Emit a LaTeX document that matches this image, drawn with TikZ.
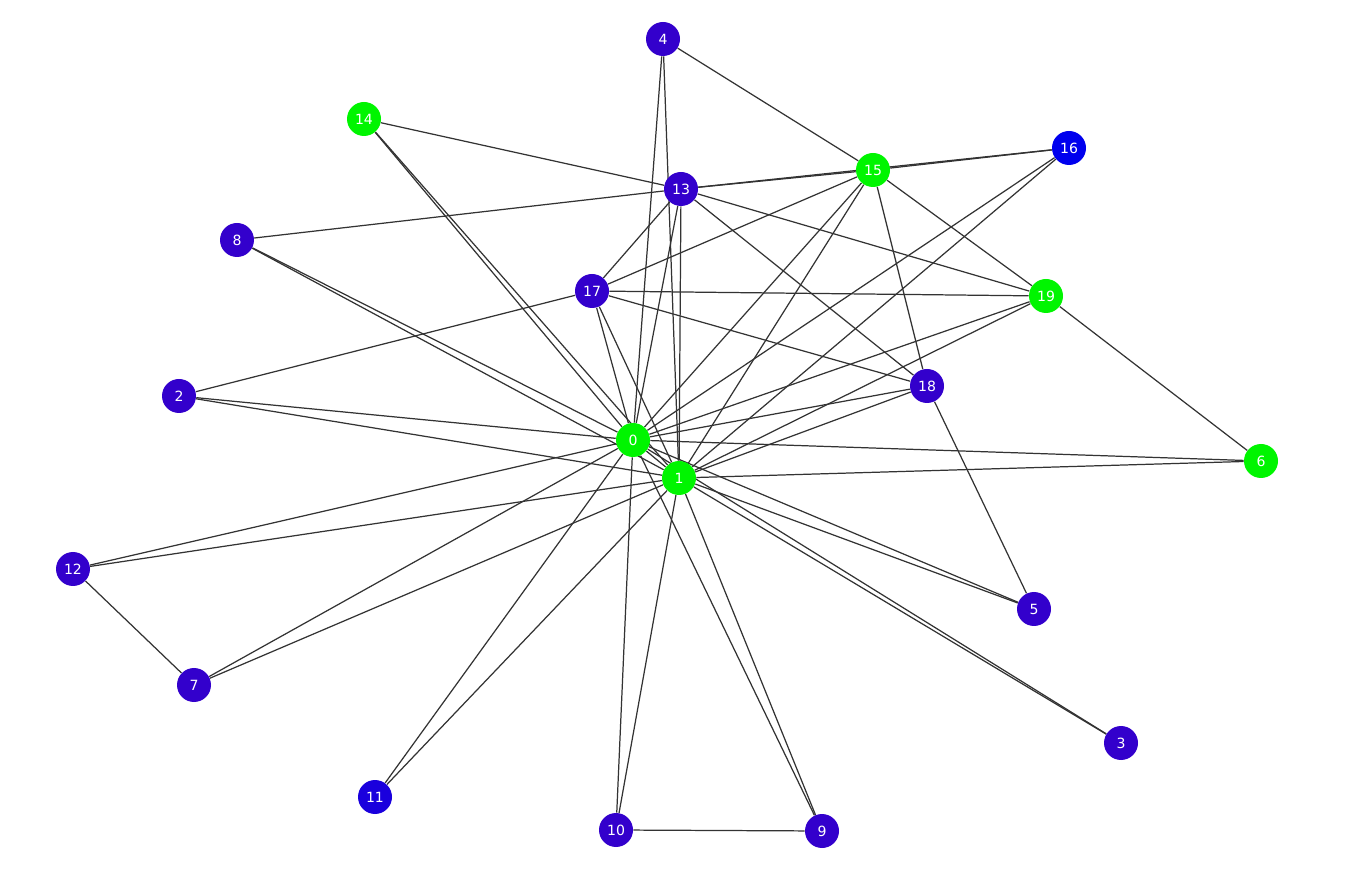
\documentclass[tikz,border=0pt]{standalone}
\usepackage{fontspec}
\setmainfont{DejaVu Sans}
\usepackage{tikz}
\usetikzlibrary{backgrounds}
\definecolor{hubgreen}{HTML}{00F500}
\definecolor{deeppurple}{HTML}{3300CC}
\definecolor{purpleblue}{HTML}{1A00DD}
\definecolor{pureblue}{HTML}{0000EE}
\tikzset{
  vtx/.style={circle, fill=deeppurple, text=white, minimum size=6.8mm,
              inner sep=0pt, font=\fontsize{8}{9}\selectfont},
  hub/.style={vtx, fill=hubgreen},
  edge/.style={line width=0.7pt, black!80},
}

\begin{document}
\begin{tikzpicture}[x=0.2mm, y=-0.2mm]
  \useasboundingbox (0,0) rectangle (1365,879);
  % vertices
  \node[hub] (v0) at (633,440) {0};
  \node[hub] (v1) at (679,478) {1};
  \node[vtx] (v2) at (179,396) {2};
  \node[vtx] (v3) at (1121,743) {3};
  \node[vtx] (v4) at (663,39) {4};
  \node[vtx] (v5) at (1034,609) {5};
  \node[hub] (v6) at (1261,461) {6};
  \node[vtx] (v7) at (194,685) {7};
  \node[vtx] (v8) at (237,240) {8};
  \node[vtx] (v9) at (822,831) {9};
  \node[vtx] (v10) at (616,830) {10};
  \node[vtx, fill=purpleblue] (v11) at (375,797) {11};
  \node[vtx] (v12) at (73,569) {12};
  \node[vtx] (v13) at (681,189) {13};
  \node[hub] (v14) at (364,119) {14};
  \node[hub] (v15) at (873,170) {15};
  \node[vtx, fill=pureblue] (v16) at (1069,148) {16};
  \node[vtx] (v17) at (592,291) {17};
  \node[vtx] (v18) at (927,386) {18};
  \node[hub] (v19) at (1046,296) {19};
  % edges
  \begin{scope}[on background layer]
  \draw[edge] (v0)--(v1);
  \draw[edge] (v0)--(v2); \draw[edge] (v0)--(v3); \draw[edge] (v0)--(v4);
  \draw[edge] (v0)--(v5); \draw[edge] (v0)--(v6); \draw[edge] (v0)--(v7);
  \draw[edge] (v0)--(v8); \draw[edge] (v0)--(v9); \draw[edge] (v0)--(v10);
  \draw[edge] (v0)--(v11); \draw[edge] (v0)--(v12); \draw[edge] (v0)--(v13);
  \draw[edge] (v0)--(v14); \draw[edge] (v0)--(v15); \draw[edge] (v0)--(v16);
  \draw[edge] (v0)--(v17); \draw[edge] (v0)--(v18); \draw[edge] (v0)--(v19);
  \draw[edge] (v1)--(v2); \draw[edge] (v1)--(v3); \draw[edge] (v1)--(v4);
  \draw[edge] (v1)--(v5); \draw[edge] (v1)--(v6); \draw[edge] (v1)--(v7);
  \draw[edge] (v1)--(v8); \draw[edge] (v1)--(v9); \draw[edge] (v1)--(v10);
  \draw[edge] (v1)--(v11); \draw[edge] (v1)--(v12); \draw[edge] (v1)--(v13);
  \draw[edge] (v1)--(v14); \draw[edge] (v1)--(v15); \draw[edge] (v1)--(v16);
  \draw[edge] (v1)--(v17); \draw[edge] (v1)--(v18); \draw[edge] (v1)--(v19);
  \draw[edge] (v4)--(v15); \draw[edge] (v14)--(v13); \draw[edge] (v8)--(v13);
  \draw[edge] (v13)--(v15); \draw[edge] (v13)--(v16); \draw[edge] (v15)--(v16);
  \draw[edge] (v13)--(v19); \draw[edge] (v13)--(v18); \draw[edge] (v13)--(v17);
  \draw[edge] (v17)--(v15); \draw[edge] (v17)--(v19); \draw[edge] (v17)--(v18);
  \draw[edge] (v17)--(v2); \draw[edge] (v15)--(v19); \draw[edge] (v15)--(v18);
  \draw[edge] (v18)--(v5); \draw[edge] (v19)--(v6);
  \draw[edge] (v12)--(v7); \draw[edge] (v10)--(v9);
  \end{scope}
\end{tikzpicture}
\end{document}
